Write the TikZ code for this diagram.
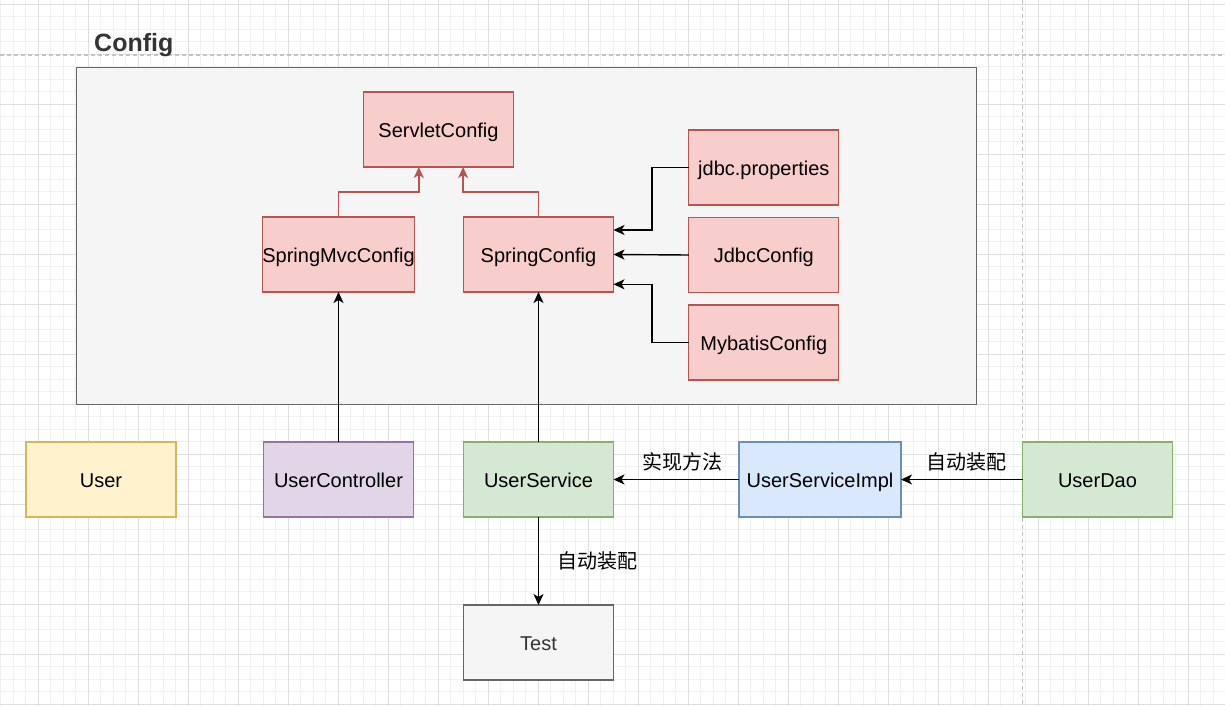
\documentclass[tikz,border=0pt]{standalone}
\usepackage{fontspec}
\setmainfont{Liberation Sans}
\newfontfamily\cjk{Noto Sans CJK SC}
\usetikzlibrary{
  arrows.meta,
  positioning
}

\definecolor{redfill}{HTML}{F8CECC}
\definecolor{redline}{HTML}{B85450}
\definecolor{yellowfill}{HTML}{FFF2CC}
\definecolor{yellowline}{HTML}{D6B656}
\definecolor{purplefill}{HTML}{E1D5E7}
\definecolor{purpleline}{HTML}{9673A6}
\definecolor{greenfill}{HTML}{D5E8D4}
\definecolor{greenline}{HTML}{82B366}
\definecolor{bluefill}{HTML}{DAE8FC}
\definecolor{blueline}{HTML}{6C8EBF}
\definecolor{greyfill}{HTML}{F5F5F5}
\definecolor{greyline}{HTML}{666666}
\definecolor{greytext}{HTML}{333333}
\definecolor{gridmajor}{HTML}{DEDEDE}
\definecolor{gridminor}{HTML}{F1F1F1}
\definecolor{pageline}{HTML}{C4C4C4}

\begin{document}
\begin{tikzpicture}[
  x=1pt, y=-1pt,
  font=\fontsize{20}{24}\selectfont,
  cls/.style={
    rectangle, draw, line width=1.3pt, inner sep=0pt, outer sep=0pt,
    minimum width=150pt, minimum height=75pt, align=center,
    text height=18pt, text depth=2.4pt
  },
  cfg/.style={cls, draw=redline, fill=redfill},
  model/.style={cls, draw=yellowline, fill=yellowfill},
  ctrl/.style={cls, draw=purpleline, fill=purplefill},
  svc/.style={cls, draw=greenline, fill=greenfill},
  impl/.style={cls, draw=blueline, fill=bluefill, minimum width=162pt},
  testbox/.style={cls, draw=greyline, fill=greyfill, text=greytext},
  group/.style={
    rectangle, draw=greyline, fill=greyfill, line width=1.3pt,
    minimum width=900pt, minimum height=337pt, inner sep=0pt
  },
  flow/.style={-{Stealth[length=11pt,width=10pt,inset=3pt]}, black, line width=1.4pt},
  inherit/.style={flow, draw=redline},
  lbl/.style={font=\cjk\fontsize{20}{24}\selectfont, inner sep=0pt},
]

% Canvas and grid
\useasboundingbox (0,0) rectangle (1225,706);
\fill[white] (0,0) rectangle (1225,706);
\begin{scope}
  \clip (0,0) rectangle (1225,706);
  \foreach \gx in {0,...,98}
    \draw[gridminor, line width=0.8pt] ({-11.7+12.5*\gx},0) -- ++(0,706);
  \foreach \gy in {0,...,57}
    \draw[gridminor, line width=0.8pt] (0,{-8.2+12.5*\gy}) -- ++(1225,0);
  \foreach \gx in {0,...,24}
    \draw[gridmajor, line width=0.9pt] ({-11.7+50*\gx},0) -- ++(0,706);
  \foreach \gy in {0,...,14}
    \draw[gridmajor, line width=0.9pt] (0,{4.3+50*\gy}) -- ++(1225,0);
  % page breaks
  \draw[pageline, line width=1.2pt, dash pattern=on 4pt off 3pt] (0,55) -- (1225,55);
  \draw[pageline, line width=1.2pt, dash pattern=on 4pt off 3pt] (1022.7,0) -- (1022.7,706);
\end{scope}

% Config group
\node[group] (config) at (526.3, 236.2) {};
\node[font=\fontsize{25}{30}\selectfont\bfseries, text=greytext, anchor=base west,
  inner sep=0pt] (cfgtitle) at (94, 51.7) {Config};

% Config classes
\node[cfg] (servlet) at (438.5, 129.5) {ServletConfig};
\node[cfg] (mvc)     at (338.5, 254.5) {SpringMvcConfig};
\node[cfg] (spring)  at (538.5, 254.5) {SpringConfig};
\node[cfg] (props)   at (763.8, 167.5) {jdbc.properties};
\node[cfg] (jdbc)    at (763.8, 255.0) {JdbcConfig};
\node[cfg] (mybatis) at (763.8, 342.5) {MybatisConfig};

% Bottom row
\node[model] (user)     at (101.0, 479.5) {User};
\node[ctrl]  (ctrlr)    at (338.5, 479.5) {UserController};
\node[svc]   (service)  at (538.5, 479.5) {UserService};
\node[impl]  (svcimpl)  at (820.0, 479.5) {UserServiceImpl};
\node[svc]   (dao)      at (1097.5, 479.5) {UserDao};
\node[testbox] (test)   at (538.5, 642.5) {Test};

% Inheritance into ServletConfig
\draw[inherit] (mvc.north) -- ++(0,-25) -| ([xshift=-19.7pt]servlet.south);
\draw[inherit] (spring.north) -- ++(0,-25) -| ([xshift=24.6pt]servlet.south);

% Imports into SpringConfig
\draw[flow] (props.west) -- ++(-37,0) |- ([yshift=24.5pt]spring.east);
\draw[flow] (jdbc.west) -- (spring.east);
\draw[flow] (mybatis.west) -- ++(-37,0) |- ([yshift=-29.8pt]spring.east);

% Layers up to config
\draw[flow] (ctrlr.north) -- (mvc.south);
\draw[flow] (service.north) -- (spring.south);

% Service wiring
\draw[flow] (svcimpl.west) -- node[lbl, above=8pt, xshift=6pt] {实现方法} (service.east);
\draw[flow] (dao.west) -- node[lbl, above=8pt, xshift=5pt] {自动装配} (svcimpl.east);
\draw[flow] (service.south) -- node[lbl, right=18pt] {自动装配} (test.north);

\end{tikzpicture}
\end{document}
